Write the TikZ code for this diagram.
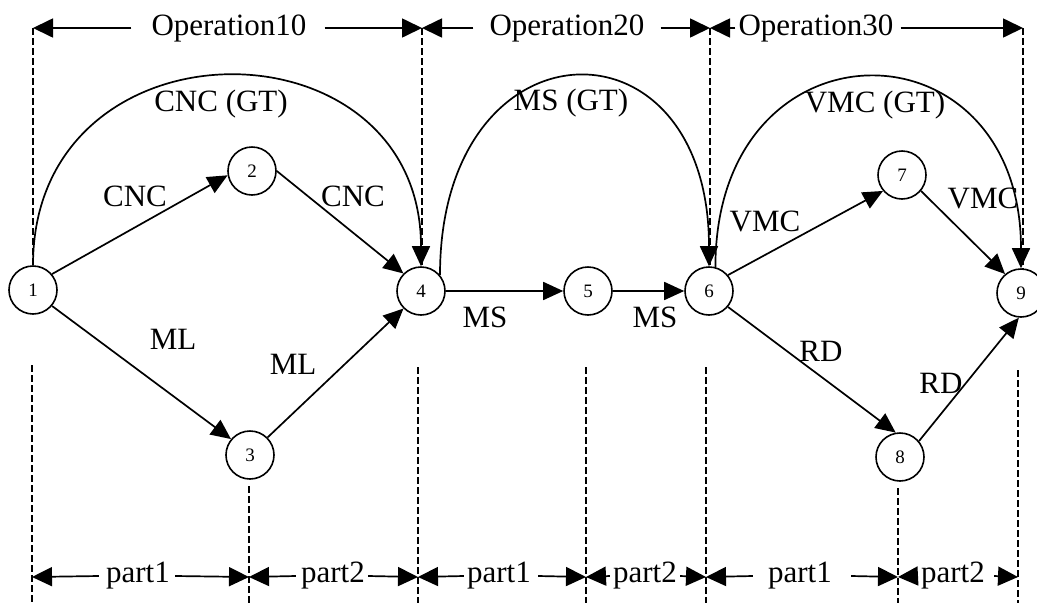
\documentclass[tikz,border=0pt]{standalone}
\usepackage{fontspec}
\setmainfont{Liberation Serif}
\usetikzlibrary{arrows.meta}
\begin{document}
\begin{tikzpicture}[x=1pt,y=-1pt,
  every node/.style={inner sep=0pt},
  stage/.style={circle,draw,line width=1.6pt,minimum size=48pt,
    font=\fontsize{19}{19}\selectfont},
  lbl/.style={font=\fontsize{31}{31}\selectfont},
  arr/.style={line width=1.7pt,-{Triangle[length=20pt,width=18pt]}},
  dim/.style={line width=1.7pt,-{Triangle[length=20pt,width=19pt]}},
  guide/.style={line width=1.6pt,dash pattern=on 7pt off 3pt}
]
\useasboundingbox (0,0) rectangle (1037,603);
\clip (0,0) rectangle (1037,603);

% machining stages
\node[stage] (n1) at (33,290) {1};
\node[stage] (n2) at (252,171) {2};
\node[stage] (n3) at (250,455) {3};
\node[stage] (n4) at (421,291) {4};
\node[stage] (n5) at (588,291) {5};
\node[stage] (n6) at (709,291) {6};
\node[stage] (n7) at (902,175) {7};
\node[stage] (n8) at (900,457) {8};
\node[stage] (n9) at (1021,293) {9};

% operation boundaries (top)
\coordinate (t0) at (33,28);
\coordinate (t1) at (422,28);
\coordinate (t2) at (710,28);
\coordinate (t3) at (1023,28);
\draw[guide] (t0) -- (t0 |- n1.north);
\draw[guide] (t1) -- (t1 |- n4.north);
\draw[guide] (t2) -- (t2 |- n6.north);
\draw[guide] (t3) -- (t3 |- n9.north);

% part boundaries (bottom)
\coordinate (b0) at (32,577);
\coordinate (b1) at (249,577);
\coordinate (b2) at (418,577);
\coordinate (b3) at (586,577);
\coordinate (b4) at (706,577);
\coordinate (b5) at (898,577);
\coordinate (b6) at (1018,577);
\draw[guide] (32,365) -- (32,603);
\draw[guide] (249,486) -- (249,603);
\draw[guide] (418,367) -- (418,603);
\draw[guide] (586,367) -- (586,603);
\draw[guide] (706,367) -- (706,603);
\draw[guide] (898,488) -- (898,603);
\draw[guide] (1018,370) -- (1018,603);

% routes between stages
\draw[arr] (n1.40) -- (n2.190);
\draw[arr] (n2.east) -- (n4.135);
\draw[arr] (n1.-40) -- (n3.140);
\draw[arr] (n3.45) -- (n4.225);
\draw[arr] (n4) -- (n5);
\draw[arr] (n5) -- (n6);
\draw[arr] (n6.40) -- (n7.220);
\draw[arr] (n7.-40) -- (n9.130);
\draw[arr] (n6.-40) -- (n8.100);
\draw[arr] (n8.40) -- (n9.-95);

% group technology routes
\draw[arr] (n1.north) .. controls +(0,-252) and +(0,-252) .. (n4.north);
\draw[arr] (n4.40) .. controls +(0,-258) and +(0,-258) .. (n6.north);
\draw[arr] (n6.75) .. controls +(0,-253) and +(0,-253) .. (n9.north);

% route labels
\node[lbl] (lcncgt) at (221,104) {CNC (GT)};
\node[lbl] (lmsgt) at (571,103) {MS (GT)};
\node[lbl] (lvmcgt) at (875,105) {VMC (GT)};
\node[lbl] (l12) at (135,196) {CNC};
\node[lbl] (l24) at (353,196) {CNC};
\node[lbl] (l13) at (173,339) {ML};
\node[lbl] (l34) at (293,364) {ML};
\node[lbl] (l45) at (485,317) {MS};
\node[lbl] (l56) at (655,317) {MS};
\node[lbl] (l67) at (765,221) {VMC};
\node[lbl] (l79) at (983,198) {VMC};
\node[lbl] (l68) at (821,351) {RD};
\node[lbl] (l89) at (941,383) {RD};

% operation spans
\node[lbl] (op10) at (229,28) {Operation10};
\node[lbl] (op20) at (567,28) {Operation20};
\node[lbl] (op30) at (816,28) {Operation30};
\draw[dim] ([xshift=-20pt]op10.west) -- (t0);
\draw[dim] ([xshift=18pt]op10.east) -- (t1);
\draw[dim] ([xshift=-16pt]op20.west) -- (t1);
\draw[dim] ([xshift=16pt]op20.east) -- (t2);
\draw[dim] ([xshift=-3pt]op30.west) -- (t2);
\draw[dim] ([xshift=7pt]op30.east) -- (t3);

% part spans
\node[lbl] (p1a) at (138,576) {part1};
\node[lbl] (p2a) at (333,576) {part2};
\node[lbl] (p1b) at (499,576) {part1};
\node[lbl] (p2b) at (645,576) {part2};
\node[lbl] (p1c) at (800,576) {part1};
\node[lbl] (p2c) at (953,576) {part2};
\draw[dim] ([xshift=-7pt]p1a.west) -- (b0);
\draw[dim] ([xshift=5pt]p1a.east) -- (b1);
\draw[dim] ([xshift=-5pt]p2a.west) -- (b1);
\draw[dim] ([xshift=3pt]p2a.east) -- (b2);
\draw[dim] ([xshift=-3pt]p1b.west) -- (b2);
\draw[dim] ([xshift=7pt]p1b.east) -- (b3);
\draw[dim] ([xshift=-3pt]p2b.west) -- (b3);
\draw[dim] ([xshift=3pt]p2b.east) -- (b4);
\draw[dim] ([xshift=-15pt]p1c.west) -- (b4);
\draw[dim] ([xshift=19pt]p1c.east) -- (b5);
\draw[dim] ([xshift=-3pt]p2c.west) -- (b5);
\draw[dim] ([xshift=9pt]p2c.east) -- (b6);
\end{tikzpicture}
\end{document}
